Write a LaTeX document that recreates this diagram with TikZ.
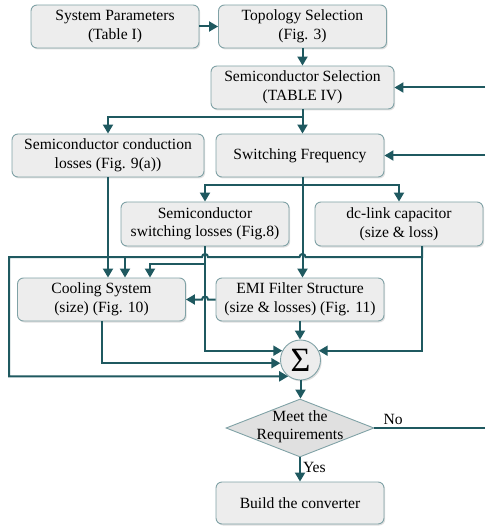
\documentclass[tikz,border=0pt]{standalone}
\usepackage{fontspec}
\setmainfont{Liberation Serif}
\usetikzlibrary{arrows.meta,shapes.geometric,shadows,calc}
\definecolor{linec}{RGB}{31,89,96}
\definecolor{bordc}{RGB}{128,162,166}
\definecolor{boxfill}{RGB}{237,237,237}
\definecolor{diafill}{RGB}{224,224,224}
\begin{document}
\begin{tikzpicture}[x=1pt,y=1pt,
  font=\fontsize{15.6}{18.5}\selectfont,
  box/.style={draw=bordc, line width=0.9pt, fill=boxfill, rounded corners=6pt,
    minimum width=168pt, minimum height=43pt, align=center, inner sep=0pt,
    drop shadow={shadow xshift=1.2pt, shadow yshift=-1.5pt, opacity=0.25, fill=gray}},
  sumc/.style={circle, draw=bordc, line width=0.9pt, fill=boxfill, minimum size=40pt, inner sep=0pt,
    drop shadow={shadow xshift=1.2pt, shadow yshift=-1.5pt, opacity=0.25, fill=gray}},
  dia/.style={diamond, draw=bordc, line width=0.9pt, fill=diafill, minimum width=148pt,
    minimum height=58pt, inner sep=0pt},
  conn/.style={draw=linec, line width=2pt},
  arr/.style={conn, -{Triangle[length=9pt,width=10pt]}},
  lbl/.style={inner sep=2pt}
]
\useasboundingbox (0,0) rectangle (485,-529);

% nodes
\node[box] (sp) at (115,-26.5) {System Parameters\\(Table I)};
\node[box] (ts) at (302.5,-26.5) {Topology Selection\\(Fig. 3)};
\node[box, minimum width=183pt] (ss) at (302.5,-87.5) {Semiconductor Selection\\(TABLE IV)};
\node[box, minimum width=192pt] (cl) at (108,-155.5) {Semiconductor conduction\\losses (Fig. 9(a))};
\node[box] (sf) at (300,-155.5) {Switching Frequency};
\node[box, minimum height=44pt] (sw) at (205,-224) {Semiconductor\\switching losses (Fig.8)};
\node[box, minimum height=44pt] (dc) at (399,-224) {dc-link capacitor\\(size \& loss)};
\node[box] (cs) at (101.5,-299.5) {Cooling System\\(size) (Fig. 10)};
\node[box] (emi) at (300,-299.5) {EMI Filter Structure\\(size \& losses) (Fig. 11)};
\node[sumc] (sum) at (300.5,-360) {{\fontsize{34}{34}\selectfont Σ}};
\node[dia] (req) at (300,-428) {\makebox[0pt]{\smash{\raisebox{-2.5pt}{\begin{tabular}{@{}c@{}}Meet the\\Requirements\end{tabular}}}}};
\node[box, minimum height=42pt] (bc) at (300,-503) {Build the converter};

% helper coordinates
\coordinate (fb1) at (485,-87.5);
\coordinate (fb2) at (485,-155.5);
\coordinate (fb0) at (485,-428);
\coordinate (s1) at (302.5,-117);
\coordinate (s2) at (302.5,-185);
\coordinate (h257) at (0,-257);
\coordinate (j2) at (205,-264);
\coordinate (j3) at (125,-257);
\coordinate (d1) at ($(dc.south)+(23,0)$);

% connectors
\draw[arr] (sp.east) -- (ts.west);
\draw[arr] (ts.south) -- (ss.north);
\draw[arr] (fb1) -- (ss.east);
\draw[arr] (fb2) -- (sf.east);
\draw[arr] (ss.south) -- (s1) -| (cl.north);
\draw[arr] (s1) -- (s1 |- sf.north);
\draw[arr] (s1 |- sf.south) -- (s1 |- emi.north);
\draw[arr] (s2) -| (sw.north);
\draw[arr] (s2) -| (dc.north);
\draw[arr] (cl.south) -- (cl.south |- cs.north);
\draw[arr] (sw.south) |- (sum.153);
\draw[arr] (j2) -| ($(cs.north)+(48.5,0)$);
\draw[arr] (d1) |- (sum.27);
\draw[arr] (d1) -- (d1 |- h257) -- (305.5,-257) arc[start angle=0,end angle=180,radius=3]
  -- (208,-257) arc[start angle=0,end angle=180,radius=3] -- (9,-257) |- (sum.233);
\draw[arr] (j3) -- ($(cs.north)+(23.5,0)$);
\draw[arr] (emi.west) -- (208,-299.5) arc[start angle=0,end angle=180,radius=3] -- (cs.east);
\draw[arr] (cs.south) |- (sum.189);
\draw[arr] (emi.south) -- (emi.south |- sum.north);
\draw[arr] (sum.south) -- (sum.south |- req.north);
\draw[arr] (req.south) -- node[lbl, right, pos=0.4] {Yes} (bc.north);
\draw[conn] (req.east) -- node[lbl, above, pos=0.17] {No} (fb0);
\end{tikzpicture}
\end{document}
